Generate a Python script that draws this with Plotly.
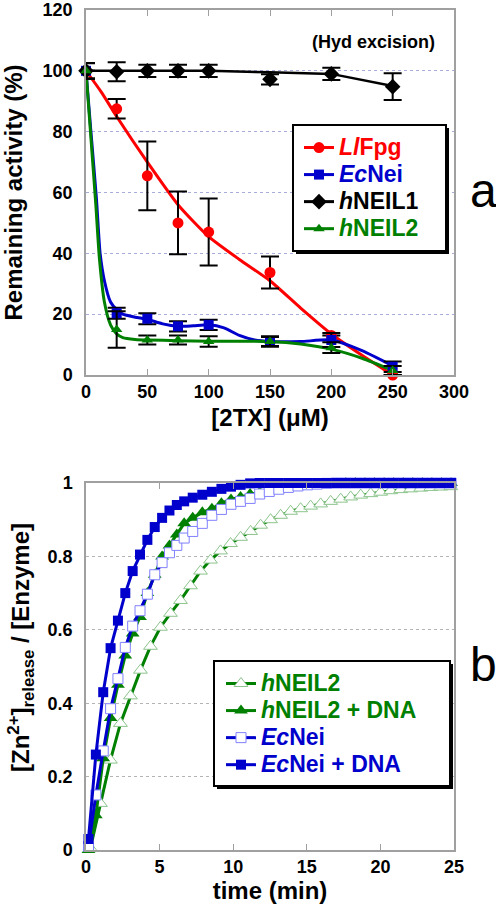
import plotly.graph_objects as go

FONT = "Liberation Sans, Arial, sans-serif"
RED = "#ff0000"
BLUE = "#0000cc"
GREEN = "#008000"

# ---------------- panel a : remaining activity vs [2TX] ----------------
conc = [0, 25, 50, 75, 100, 150, 200, 250]
llfpg = [100, 87.5, 65.5, 50, 47, 33.7, 13, 0]
llfpg_err = [0, 3.2, 11.3, 10.3, 11, 5.3, 0, 0]
ecnei = [100, 20.3, 18.5, 16, 16.5, 11, 11.5, 2.7]
ecnei_err = [2.5, 1.8, 1.8, 1.7, 1.7, 1.7, 2.3, 1.7]
hneil1 = [100, 99.7, 100, 100, 100, 97.2, 99, 94.8]
hneil1_err = [2.6, 3.1, 2, 2, 2, 1.7, 2, 4.4]
hneil2 = [100, 15, 11.5, 11.5, 11, 11, 9, 1.5]
hneil2_err = [2.6, 6, 1.5, 1.5, 1.7, 1.5, 1.8, 1.5]

# fitted curves
fit_llfpg_x = [0, 12.5, 25, 50, 75, 100, 125, 150, 175, 200, 225, 250]
fit_llfpg_y = [100, 93, 85, 70, 56, 45.5, 38, 31, 22, 13.5, 6.5, 0]
fit_ecnei_x = [0, 4, 8.5, 11.5, 15, 20, 25, 30, 40, 50, 62.5, 75, 87.5, 100, 112.5, 125, 137.5, 150, 175, 200, 225, 250]
fit_ecnei_y = [100, 80, 58, 40, 31, 24, 21.5, 20, 19, 18.3, 16.8, 16, 16.2, 16.5, 15.5, 13, 11.5, 11, 11, 11.5, 8, 3]
fit_hneil1_x = [0, 25, 50, 75, 100, 150, 200, 250]
fit_hneil1_y = [100, 100, 100, 100, 100, 99.5, 99, 95]
fit_hneil2_x = [0, 4, 8, 11, 15, 20, 25, 30, 40, 50, 75, 100, 150, 175, 200, 225, 250]
fit_hneil2_y = [100, 78, 56, 38, 24, 16.5, 13.5, 12.3, 11.7, 11.5, 11.3, 11.1, 11, 10.2, 8.5, 5.5, 1.5]

# ---------------- panel b : Zn release vs time ----------------
t_sq = [0.17, 0.67, 1.17, 1.67, 2.17, 2.67, 3.17, 3.67, 4.17, 4.67, 5.17, 5.67, 6.17, 6.67,
        7.25, 7.9, 8.55, 9.2, 9.85, 10.5, 11.15, 11.8, 12.45, 13.1, 13.75, 14.4, 15.05, 15.7,
        16.35, 17.0, 17.65, 18.3, 18.95, 19.6, 20.25, 20.9, 21.55, 22.2, 22.85, 23.5, 24.15, 24.8]
ecnei_dna = [0.03, 0.26, 0.43, 0.55, 0.625, 0.70, 0.76, 0.805, 0.845, 0.88, 0.905, 0.925, 0.94, 0.95,
             0.96, 0.968, 0.976, 0.984, 0.99, 0.995, 0.999, 1, 1, 1, 1, 1, 1, 1,
             1, 1, 1, 1, 1, 1, 1, 1, 1, 1, 1, 1, 1, 1]
ecnei_free = [0.01, 0.15, 0.27, 0.385, 0.467, 0.552, 0.61, 0.652, 0.697, 0.75, 0.783, 0.81, 0.83, 0.85,
              0.868, 0.89, 0.912, 0.928, 0.942, 0.95, 0.958, 0.97, 0.977, 0.983, 0.988, 0.992, 0.995, 0.997,
              0.999, 1, 1, 1, 1, 1, 1, 1, 1, 1, 1, 1, 1, 1]
hneil2_dna = [0.0, 0.095, 0.25, 0.36, 0.45, 0.53, 0.59, 0.635, 0.70, 0.75, 0.80, 0.83, 0.86, 0.89,
              0.905, 0.92, 0.93, 0.945, 0.955, 0.962, 0.97, 0.975, 0.98, 0.985, 0.988, 0.99, 0.993, 0.995,
              0.997, 0.998, 1, 1, 1, 1, 1, 1, 1, 1, 1, 1, 1, 1]
t_tri = [0.3, 0.98, 1.66, 2.34, 3.02, 3.7, 4.38, 5.06, 5.74, 6.42, 7.1, 7.78, 8.46, 9.14, 9.82,
         10.5, 11.18, 11.86, 12.54, 13.22, 13.9, 14.58, 15.26, 15.94, 16.62, 17.3, 17.98, 18.66,
         19.34, 20.02, 20.7, 21.38, 22.06, 22.74, 23.42, 24.1, 24.78]
hneil2_free = [0.005, 0.127, 0.245, 0.345, 0.42, 0.49, 0.555, 0.607, 0.645, 0.68, 0.72, 0.76, 0.79, 0.815, 0.835,
               0.852, 0.868, 0.885, 0.9, 0.912, 0.923, 0.93, 0.937, 0.943, 0.95, 0.956, 0.962, 0.967,
               0.971, 0.975, 0.979, 0.982, 0.984, 0.986, 0.988, 0.989, 0.99]

# ---------------- geometry helpers (pixel -> paper) ----------------
ML, MR, MT, MB = 86, 42, 10, 61
W, H = 496, 911
PW, PH = W - ML - MR, H - MT - MB


def px(x):
    return (x - ML) / PW


def py(y):
    return (H - MB - y) / PH


def lg(text, color):
    return f'<span style="color:{color};font-size:23px">{text}</span>'


fig = go.Figure()

err = lambda e: dict(type="data", array=e, visible=True, color="black", thickness=2, width=9)

# fitted lines (panel a)
fig.add_trace(go.Scatter(x=fit_llfpg_x, y=fit_llfpg_y, mode="lines", line=dict(color=RED, width=3, shape="spline", smoothing=0.6),
                         showlegend=False, xaxis="x", yaxis="y", hoverinfo="skip"))
fig.add_trace(go.Scatter(x=fit_ecnei_x, y=fit_ecnei_y, mode="lines", line=dict(color=BLUE, width=3, shape="spline", smoothing=0.6),
                         showlegend=False, xaxis="x", yaxis="y", hoverinfo="skip"))
fig.add_trace(go.Scatter(x=fit_hneil1_x, y=fit_hneil1_y, mode="lines", line=dict(color="black", width=2.5),
                         showlegend=False, xaxis="x", yaxis="y", hoverinfo="skip"))
fig.add_trace(go.Scatter(x=fit_hneil2_x, y=fit_hneil2_y, mode="lines", line=dict(color=GREEN, width=3, shape="spline", smoothing=0.6),
                         showlegend=False, xaxis="x", yaxis="y", hoverinfo="skip"))

# data points with error bars (panel a)
pts = [
    (llfpg, llfpg_err, RED, "circle", 11, lg("<i>Ll</i>Fpg", RED)),
    (ecnei, ecnei_err, BLUE, "square", 10, lg("<i>Ec</i>Nei", BLUE)),
    (hneil1, hneil1_err, "black", "diamond", 12, lg("<i>h</i>NEIL1", "black")),
    (hneil2, hneil2_err, GREEN, "triangle-up", 10, lg("<i>h</i>NEIL2", GREEN)),
]
for ys, es, col, sym, sz, name in pts:
    fig.add_trace(go.Scatter(x=conc, y=ys, mode="markers", error_y=err(es),
                             marker=dict(color=col, symbol=sym, size=sz), cliponaxis=False,
                             showlegend=False, xaxis="x", yaxis="y"))
for ys, es, col, sym, sz, name in pts:
    fig.add_trace(go.Scatter(x=[None], y=[None], mode="lines+markers", name=name,
                             line=dict(color=col, width=3), marker=dict(color=col, symbol=sym, size=sz),
                             legend="legend", xaxis="x", yaxis="y"))

# panel b series
fig.add_trace(go.Scatter(x=t_tri, y=hneil2_free, mode="lines+markers",
                         name=lg("<i>h</i>NEIL2", GREEN),
                         line=dict(color=GREEN, width=3),
                         marker=dict(symbol="triangle-up", size=12, color="white", line=dict(color="#8cc48c", width=1)),
                         cliponaxis=False, legend="legend2", xaxis="x2", yaxis="y2"))
fig.add_trace(go.Scatter(x=t_sq, y=hneil2_dna, mode="lines+markers",
                         name=lg("<i>h</i>NEIL2 + DNA", GREEN),
                         line=dict(color=GREEN, width=3),
                         marker=dict(symbol="triangle-up", size=12, color=GREEN),
                         cliponaxis=False, legend="legend2", xaxis="x2", yaxis="y2"))
fig.add_trace(go.Scatter(x=t_sq, y=ecnei_free, mode="lines+markers",
                         name=lg("<i>Ec</i>Nei", BLUE),
                         line=dict(color=BLUE, width=3),
                         marker=dict(symbol="square", size=10, color="white", line=dict(color="#8080ff", width=1)),
                         cliponaxis=False, legend="legend2", xaxis="x2", yaxis="y2"))
fig.add_trace(go.Scatter(x=t_sq, y=ecnei_dna, mode="lines+markers",
                         name=lg("<i>Ec</i>Nei + DNA", BLUE),
                         line=dict(color=BLUE, width=3),
                         marker=dict(symbol="square", size=10, color=BLUE),
                         cliponaxis=False, legend="legend2", xaxis="x2", yaxis="y2"))

tickfont = dict(family=FONT, size=18, color="black", weight="bold")
titlefont = dict(family=FONT, size=24, color="black", weight="bold")
AXCOL = "#a0a0a0"

xcommon = dict(showline=True, linecolor=AXCOL, linewidth=1.5, mirror="ticks", ticks="inside",
               ticklen=6, tickcolor=AXCOL, tickwidth=1, showgrid=False, zeroline=False,
               tickfont=tickfont, domain=[0, 1], automargin=False, ticklabeloverflow="allow")
ycommon = dict(showline=True, linecolor=AXCOL, linewidth=1.5, mirror=True, ticks="",
               showgrid=True, griddash="dot", gridwidth=1, zeroline=False, tickfont=tickfont,
               ticklabelstandoff=8, automargin=False, ticklabeloverflow="allow")

legfont = dict(family=FONT, size=18.5, color="black", weight="bold")


def box(x0, y0, x1, y1, sh=3):
    return [
        dict(type="rect", xref="paper", yref="paper", x0=px(x0 + sh), x1=px(x1 + sh), y0=py(y1 + sh), y1=py(y0 + sh),
             fillcolor="black", line=dict(width=0), layer="above"),
        dict(type="rect", xref="paper", yref="paper", x0=px(x0), x1=px(x1), y0=py(y1), y1=py(y0),
             fillcolor="white", line=dict(color="black", width=2), layer="above"),
    ]


fig.update_layout(
    width=W, height=H,
    margin=dict(l=ML, r=MR, t=MT, b=MB),
    paper_bgcolor="white", plot_bgcolor="white",
    font=dict(family=FONT, color="black"),
    xaxis=dict(**xcommon, anchor="y", range=[0, 300], dtick=50,
               title=dict(text="[2TX] (μM)", font=titlefont, standoff=8)),
    yaxis=dict(**ycommon, anchor="x", domain=[py(375), 1], range=[0, 120], dtick=20, gridcolor="#a8acd8",
               title=dict(text="Remaining activity (%)", font=titlefont, standoff=14)),
    xaxis2=dict(**xcommon, anchor="y2", range=[0, 25], dtick=5,
                title=dict(text="time (min)", font=titlefont, standoff=6)),
    yaxis2=dict(**ycommon, anchor="x2", domain=[0, py(483)], range=[0, 1],
                tickvals=[0, 0.2, 0.4, 0.6, 0.8, 1], ticktext=["0", "0.2", "0.4", "0.6", "0.8", "1"],
                gridcolor="#b4b4b4"),
    legend=dict(x=px(299), y=py(129), xanchor="left", yanchor="top", bgcolor="rgba(0,0,0,0)",
                borderwidth=0, font=legfont),
    legend2=dict(x=px(221), y=py(665), xanchor="left", yanchor="top", bgcolor="rgba(0,0,0,0)",
                 borderwidth=0, font=legfont),
    shapes=box(293, 125, 446, 251) + box(214, 661, 450, 786),
    annotations=[
        dict(text="[Zn<sup>2+</sup>]<sub>release</sub> / [Enzyme]", textangle=-90,
             x=px(21), y=py(648), xref="paper", yref="paper", showarrow=False,
             xanchor="center", yanchor="middle", font=titlefont),
        dict(text="(Hyd excision)", x=234, y=109.6, xref="x", yref="y", showarrow=False,
             xanchor="center", yanchor="middle",
             font=dict(family=FONT, size=18, color="black", weight="bold")),
        dict(text="a", x=px(483), y=py(190), xref="paper", yref="paper", showarrow=False,
             xanchor="center", yanchor="middle",
             font=dict(family=FONT, size=48, color="black")),
        dict(text="b", x=px(483), y=py(664), xref="paper", yref="paper", showarrow=False,
             xanchor="center", yanchor="middle",
             font=dict(family=FONT, size=48, color="black")),
    ],
)

fig.write_html("out.html", post_script="document.body.style.margin='0';",
               config={"displayModeBar": False})
